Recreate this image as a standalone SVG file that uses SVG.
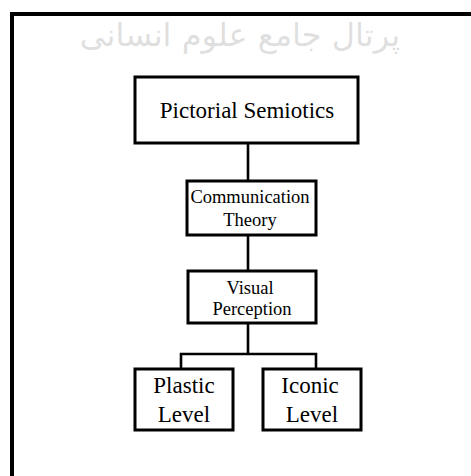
<svg xmlns="http://www.w3.org/2000/svg" width="471" height="476" viewBox="0 0 471 476">
<style>
.box{fill:#fff;stroke:#000;stroke-width:3}
.con{fill:none;stroke:#000;stroke-width:2.6}
.t{font-family:"Liberation Serif","Times New Roman",serif;fill:#000;text-anchor:middle}
.big{font-size:23px}
.sm{font-size:18.5px}
.wm{font-family:"DejaVu Sans","Noto Sans",sans-serif;font-size:32px;fill:#000;opacity:0.12;text-anchor:middle}
</style>
<rect x="0" y="0" width="471" height="476" fill="#fff"/>
<text class="wm" x="240" y="46" direction="rtl">پرتال جامع علوم انسانی</text>
<rect x="12" y="14" width="520" height="520" fill="none" stroke="#000" stroke-width="4"/>
<g id="connectors">
<line class="con" x1="248" y1="143" x2="248" y2="181"/>
<line class="con" x1="248" y1="235" x2="248" y2="271"/>
<polyline class="con" points="248,323 248,354"/>
<polyline class="con" points="181,369 181,354 316,354 316,369"/>
</g>
<g id="pictorial">
<rect class="box" x="135" y="77" width="223" height="66"/>
<text class="t big" x="247" y="118">Pictorial Semiotics</text>
</g>
<g id="communication">
<rect class="box" x="187" y="181" width="129" height="54"/>
<text class="t sm" x="250" y="203">Communication</text>
<text class="t sm" x="250" y="226">Theory</text>
</g>
<g id="visual">
<rect class="box" x="188" y="271" width="128" height="52"/>
<text class="t sm" x="250" y="294">Visual</text>
<text class="t sm" x="252" y="315">Perception</text>
</g>
<g id="plastic">
<rect class="box" x="135" y="369" width="98" height="61"/>
<text class="t big" x="184" y="393">Plastic</text>
<text class="t big" x="184" y="422">Level</text>
</g>
<g id="iconic">
<rect class="box" x="263" y="369" width="98" height="61"/>
<text class="t big" x="310" y="393">Iconic</text>
<text class="t big" x="312" y="422">Level</text>
</g>
</svg>
